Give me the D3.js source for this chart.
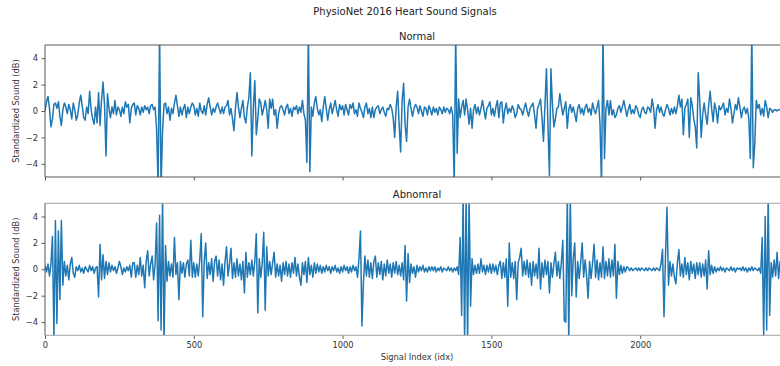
<!DOCTYPE html>
<html>
<head>
<meta charset="utf-8">
<script src="https://cdn.jsdelivr.net/npm/d3@7"></script>
<style>
  html, body { margin: 0; padding: 0; background: #fff; }
  text { font-family: "DejaVu Sans", sans-serif; }
</style>
</head>
<body>
<svg id="chart" width="780" height="366"></svg>
<script>
// ---- data (sample step: 5 index units) ----
const sampleStep = 5;
const xTicks = [0, 500, 1000, 1500, 2000];
const yTicks = [-4, -2, 0, 2, 4];
const panelTitles = ["Normal", "Abnomral"];

const normalValues = [
  0.0, 0.7, 1.1, 0.2, -1.2, -0.6, 0.5, 0.6, 0.2, 0.7, -0.4, -1.1, 0.1, 0.6, 0.3, -0.2, 0.5, 0.1, -0.6, 0.6,
  0.1, -0.7, -0.3, 0.6, 1.2, 0.4, -0.5, -0.7, 0.3, -0.2, 1.5, 0.1, -0.6, -1.0, 0.3, -0.9, 1.4, -1.1, 0.8, 2.2,
  0.5, -3.4, 1.3, 0.2, -0.5, 0.3, -0.2, 0.8, -0.3, 0.3, 0.1, -0.4, 0.3, -0.2, 0.7, 0.3, 0.5, -0.9, 0.2, 0.5,
  0.6, -0.3, 0.4, 0.2, -0.3, 0.3, -0.1, 0.4, 0.1, 0.3, -0.2, 0.4, 0.5, 0.1, 0.3, -1.4, -5.6, 6.0, -5.8, -1.5,
  0.5, 0.6, -0.2, 0.3, -0.7, 0.2, -0.2, 0.6, 1.2, 0.4, -0.4, 0.3, -0.3, 0.2, 0.5, -0.5, 0.3, -0.2, 0.3, 0.6,
  0.4, -0.3, 0.2, -0.4, 0.6, 0.0, -0.2, 0.4, -0.3, 0.5, 1.0, 0.3, -0.3, 0.2, -0.1, 0.3, 0.6, 0.2, -0.2, 0.3,
  -0.2, 0.3, 0.4, 0.8, -0.3, 0.2, -0.6, -1.5, 0.2, 1.4, 0.3, -0.5, 0.2, 0.8, -0.5, -0.9, 0.3, 1.0, 2.9, -3.4,
  0.2, 2.3, -1.8, -0.6, 0.9, 0.6, -0.3, 0.2, 0.8, 0.1, -1.3, 0.9, 0.2, 0.9, -0.3, 0.1, -1.3, -0.2, 0.3, 0.4,
  0.1, -0.3, 0.3, 0.5, -0.2, 0.2, -0.4, 0.3, 0.1, 0.4, -0.2, 0.3, -0.1, 0.8, -0.2, -0.7, -3.9, 6.0, -4.6, 0.3,
  -0.4, 0.6, 1.1, 0.2, -0.3, 0.1, -0.8, 0.3, 1.1, 0.2, -0.7, 0.1, 0.6, -0.2, 0.3, 0.8, 0.1, -0.4, 0.5, 0.1,
  0.4, -0.3, 0.5, 0.1, -0.3, 0.5, 0.2, 0.6, -0.2, 0.1, -0.4, 0.6, 0.2, -0.1, -0.5, 0.3, 0.6, -0.2, 0.2, -0.5,
  0.3, -0.5, 0.1, 0.3, 0.4, -0.2, 0.1, 0.3, -0.1, -0.4, 0.2, 0.1, 0.5, 0.2, -0.5, -2.0, 0.3, 1.5, -1.0, -3.1,
  0.8, 2.1, -1.0, -2.3, 0.3, 0.9, 0.2, -0.4, 0.2, 0.5, 0.3, -0.2, 0.4, 0.0, -0.4, 0.3, 0.2, -0.3, 0.4, 0.1,
  -0.3, 0.3, -0.1, 0.2, -0.3, 0.3, 0.1, -0.2, 0.3, -0.1, 0.2, 0.1, -0.2, 0.3, -0.3, -5.5, 6.0, -3.2, 0.9, -0.5,
  0.3, 0.8, -0.3, 0.9, 0.1, -1.0, 0.2, -1.3, 0.1, 0.5, -0.2, 0.3, -0.3, 0.2, 0.8, 0.1, -0.6, 0.2, 0.4, 0.7,
  -0.3, 0.2, -0.4, 0.3, 0.8, -0.5, 0.6, 0.7, -0.9, 0.1, 0.6, -0.2, 0.2, -0.1, 0.4, 0.1, -0.5, -0.2, 0.5, 0.2,
  0.1, -0.3, 0.2, 0.6, 0.0, -0.4, 0.2, 0.4, 0.6, -0.3, -1.3, 0.2, 0.5, 0.9, -0.5, -2.3, 0.5, 3.2, -1.0, -4.9,
  3.2, 0.5, -1.2, -0.6, 0.2, 0.3, 1.3, 0.4, -0.3, 0.2, 0.7, -1.3, 0.1, 0.5, -0.1, 0.3, -0.2, -0.8, 0.2, 0.5,
  -0.2, 0.2, -0.3, 0.3, 0.5, -0.1, 0.2, -0.3, 0.6, 0.1, -0.2, 0.3, 0.8, -1.0, -5.6, 6.0, -3.6, 0.2, 0.8, -0.3,
  0.8, -0.3, 0.1, -0.5, -0.3, 0.2, 0.4, -0.1, 0.3, 0.8, 0.2, -0.4, 0.1, 0.5, -0.2, 0.1, -0.2, 0.4, 0.2, -0.3,
  -0.5, 0.1, 0.3, -0.1, -0.2, 0.3, 0.2, -0.1, 0.9, 0.2, -1.3, 0.1, 0.5, -0.1, 0.3, -0.2, -0.4, 0.1, 0.5, 0.2,
  -0.3, 0.2, -0.2, 0.3, -0.2, 0.4, 1.2, 0.3, 0.9, -1.8, 0.2, 0.5, 0.9, -2.0, 1.0, 0.4, -0.6, -1.2, -2.8, 2.9,
  0.8, -2.0, -0.2, 0.6, -0.3, -1.0, 0.4, 1.5, 0.2, -0.8, 0.6, 0.1, -0.9, 0.4, 0.1, 0.3, 0.6, -0.3, 0.2, -0.1,
  0.9, 0.2, -0.9, -0.2, 0.5, 0.1, 1.0, 0.3, -0.5, 0.1, 0.3, -0.2, 0.2, -0.6, -3.6, 6.0, -4.3, -2.5, 0.8, 0.2,
  0.5, -0.3, 0.2, -0.4, 0.8, 0.3, -0.5, 0.2, 0.1, -0.1, 0.1, 0.1, 0.0, 0.1, 0.1, 0.0, 0.2, -0.1, 0.1, 0.0
];

const abnormalValues = [
  0.3, -0.2, 0.4, -0.5, 0.4, 2.5, -5.2, 3.7, -4.1, 2.9, -2.3, 3.7, -1.2, 0.6, -0.5, 0.3, -0.8, 0.4, 0.9, -0.3,
  -0.6, 0.2, -0.1, 0.3, -0.2, 0.1, -0.3, 0.2, 0.0, -0.2, 0.3, -0.1, 0.2, -0.3, 0.1, 0.2, -2.1, 1.9, -0.8, 1.1,
  -0.7, 0.6, -0.4, 0.5, -0.2, 0.3, -0.1, 0.2, -0.3, 0.1, 0.6, 0.2, -0.4, 0.1, -0.2, 0.2, -0.1, 0.3, -0.6, 0.5,
  0.5, -0.6, 0.3, -0.4, 0.9, -0.5, 0.3, -1.4, 0.6, 1.4, -0.5, 0.4, 1.0, -0.8, 0.4, 3.5, -3.9, 4.1, -4.6, 5.6,
  -5.6, 1.8, -0.9, 0.6, -0.5, 0.4, -0.6, 2.4, -0.4, 0.5, -2.3, 0.6, -0.3, 0.5, -0.6, 0.4, 0.7, -0.5, 2.2, -0.6,
  0.5, -0.6, 0.4, -0.5, 0.7, 2.7, -3.6, 0.6, 2.0, -0.7, 0.5, -0.4, 0.8, -0.9, 0.6, 1.0, -0.5, 0.7, -0.8, 0.4,
  -1.2, 0.6, 1.7, -0.5, 0.4, 1.6, -0.7, 0.5, -0.6, 0.8, -0.5, 0.4, -0.8, 0.6, -1.8, 1.3, -0.6, 0.5, -0.4, 0.7,
  -0.5, 0.6, 2.7, -3.3, 0.8, -0.6, 0.5, 2.8, -3.1, 1.7, -0.5, 0.6, -0.4, 0.5, 1.3, -0.6, 0.4, -0.5, 0.3, -0.9,
  0.5, -0.4, 0.6, -0.5, 0.4, -0.6, 0.5, -0.3, 0.9, -0.5, 0.4, -0.6, -1.2, 0.5, -0.4, 0.6, -1.0, 0.9, -0.4, 0.3,
  -0.6, 0.5, -0.3, 0.4, -0.2, 0.3, -0.3, 0.2, -0.2, 0.3, -0.1, 0.2, -0.3, 0.2, -0.1, 0.3, -0.2, 0.1, -0.3, 0.2,
  -0.2, 0.3, -0.1, 0.2, -0.3, 0.2, -0.2, 0.3, -0.1, 0.2, -0.6, 0.8, 2.9, -4.3, -1.0, 1.0, -0.5, 0.7, -0.6, 0.5,
  -0.7, 0.6, 1.0, -0.6, 0.5, -0.4, 0.6, -0.8, 0.4, -0.5, 0.7, -0.3, 0.4, -0.6, 0.5, -0.3, 0.6, -0.4, 0.3, -0.5,
  0.5, -0.8, 1.8, -2.4, 1.2, -1.0, 0.4, -0.3, 0.2, -0.6, 0.3, -0.2, 0.2, -0.1, 0.3, -0.2, 0.1, -0.2, 0.2, -0.1,
  0.2, -0.1, 0.2, -0.2, 0.1, -0.1, 0.2, -0.2, 0.1, 0.0, -0.1, 0.2, -0.1, 0.1, -0.2, 0.1, -0.1, 0.2, -0.4, 2.4,
  -3.5, 5.6, -5.6, 5.6, -5.6, 5.6, -2.8, 0.8, -0.4, 0.3, -0.3, 0.4, -0.3, 0.8, -0.2, 0.3, -0.4, 0.3, -0.2, 0.4,
  -0.3, 0.4, -0.2, 0.3, -0.4, 0.3, 0.6, -0.7, 0.5, -0.6, 0.8, -2.8, 2.0, -0.6, 0.5, -0.7, 0.6, -2.3, 0.5, 0.9,
  1.6, -0.5, 0.6, -0.4, 0.7, -0.6, 0.5, -1.2, 0.6, -0.5, 0.4, -0.7, 1.6, -1.5, 0.5, -0.6, 0.7, -0.4, 0.6, -1.8,
  0.5, -0.6, 0.4, 1.3, -0.5, 0.6, -0.7, 0.5, 2.2, -3.9, -4.0, 5.6, -5.6, 5.6, -2.0, 0.8, 2.0, -2.1, 0.6, -0.7,
  0.5, 2.0, -0.6, 0.7, -0.5, -2.2, 0.6, -0.7, 0.5, 1.9, -0.6, 0.7, -0.8, 0.5, -0.6, 1.7, -0.7, 0.6, -0.5, 0.8,
  -0.6, 0.7, -0.5, 1.9, -2.2, 0.6, -0.4, 0.3, -0.3, 0.2, -0.2, 0.2, 0.1, -0.1, 0.1, -0.1, 0.0, 0.1, -0.1, 0.1,
  -0.1, 0.1, 0.0, -0.1, 0.1, -0.1, 0.1, 0.0, -0.1, 0.1, -0.1, 0.1, 0.0, -0.1, 0.4, 1.5, -3.6, 1.0, 4.7, -1.2,
  0.6, -0.5, 0.4, -0.6, -1.1, 0.5, 1.5, -0.5, 0.4, -0.6, 0.9, -0.4, 0.5, -0.8, 0.6, -0.3, 0.4, -0.7, 0.5, -0.4,
  0.5, -0.6, 0.4, -0.5, 0.7, -1.5, 1.4, -0.4, 0.3, -0.3, 0.2, -0.2, 0.1, -0.1, 0.2, -0.1, 0.1, -0.2, 0.1, 0.0,
  -0.1, 0.2, -0.1, 0.1, -0.2, 0.1, 0.0, 0.1, -0.1, 0.2, -0.1, 0.1, -0.2, 0.1, -0.1, 0.2, -0.1, 0.1, 0.0, -0.1,
  0.1, -0.3, 2.4, -5.2, 4.0, -4.6, 5.6, -3.5, 0.5, -0.6, 0.7, -0.5, 1.3, -0.7, 0.6, -0.4, 0.5, -0.6, 0.4, -0.3
];

// ---- layout ----
const svg = d3.select("#chart");
svg.append("rect").attr("width", 780).attr("height", 366).attr("fill", "#fff");

const left = 45, right = 789;
const panels = [
  { top: 45, bottom: 177, values: normalValues, title: panelTitles[0], showX: false },
  { top: 203.3, bottom: 335.3, values: abnormalValues, title: panelTitles[1], showX: true }
];

const x = d3.scaleLinear().domain([0, 2500]).range([left, right]);
const fontFam = "DejaVu Sans, sans-serif";

const defs = svg.append("defs");

panels.forEach((p, k) => {
  const y = d3.scaleLinear().domain([-5, 5]).range([p.bottom, p.top]);
  const g = svg.append("g");

  defs.append("clipPath").attr("id", "clip" + k)
    .append("rect").attr("x", left).attr("y", p.top)
    .attr("width", right - left).attr("height", p.bottom - p.top);

  const line = d3.line()
    .x((d, i) => x(i * sampleStep))
    .y(d => y(d));

  g.append("path")
    .datum(p.values)
    .attr("clip-path", `url(#clip${k})`)
    .attr("fill", "none")
    .attr("stroke", "#1f77b4")
    .attr("stroke-width", 1.5)
    .attr("stroke-linejoin", "round")
    .attr("d", line);

  // y axis
  const yAxis = d3.axisLeft(y).tickValues(yTicks)
    .tickSize(3.5).tickPadding(3.5)
    .tickFormat(d => d < 0 ? "\u2212" + Math.abs(d) : String(d));
  const ya = g.append("g").attr("transform", `translate(${left},0)`).call(yAxis);
  ya.select(".domain").remove();
  ya.selectAll("line").attr("stroke", "#333").attr("stroke-width", 0.8);
  ya.selectAll("text").attr("font-family", fontFam).attr("font-size", 8.3).attr("fill", "#333");

  // x axis
  const xAxis = d3.axisBottom(x).tickValues(xTicks)
    .tickSize(3.5).tickPadding(3.5)
    .tickFormat(p.showX ? d3.format("d") : "");
  const xa = g.append("g").attr("transform", `translate(0,${p.bottom})`).call(xAxis);
  xa.select(".domain").remove();
  xa.selectAll("line").attr("stroke", "#333").attr("stroke-width", 0.8);
  xa.selectAll("text").attr("font-family", fontFam).attr("font-size", 8.3).attr("fill", "#333");

  // spines
  const spineCol = k === 0 ? "#444" : "#999";
  g.append("line").attr("x1", left).attr("x2", right).attr("y1", p.top).attr("y2", p.top)
    .attr("stroke", spineCol).attr("stroke-width", 0.9);
  g.append("line").attr("x1", left).attr("x2", right).attr("y1", p.bottom).attr("y2", p.bottom)
    .attr("stroke", spineCol).attr("stroke-width", 0.9);
  g.append("line").attr("x1", left).attr("x2", left).attr("y1", p.top).attr("y2", p.bottom)
    .attr("stroke", "#444").attr("stroke-width", 0.9);

  // panel title
  g.append("text").attr("x", 417).attr("y", p.top - 5)
    .attr("text-anchor", "middle").attr("font-family", fontFam)
    .attr("font-size", 10).attr("fill", "#222").text(p.title);

  // y label
  g.append("text")
    .attr("transform", `translate(19,${(p.top + p.bottom) / 2}) rotate(-90)`)
    .attr("text-anchor", "middle").attr("font-family", fontFam)
    .attr("font-size", 8.3).attr("fill", "#333").text("Standardized Sound (dB)");
});

svg.append("text").attr("x", 405).attr("y", 15)
  .attr("text-anchor", "middle").attr("font-family", fontFam)
  .attr("font-size", 10).attr("fill", "#222").text("PhysioNet 2016 Heart Sound Signals");

svg.append("text").attr("x", 417).attr("y", 360)
  .attr("text-anchor", "middle").attr("font-family", fontFam)
  .attr("font-size", 8.3).attr("fill", "#333").text("Signal Index (idx)");
</script>
</body>
</html>
